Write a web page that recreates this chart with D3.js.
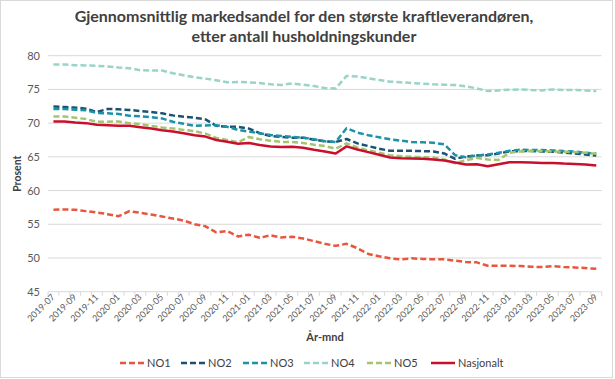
<!DOCTYPE html>
<html><head><meta charset="utf-8">
<script src="https://cdn.jsdelivr.net/npm/d3@7"></script>
<style>body{margin:0;background:#fff} svg{display:block} text{font-family:Lato,"Open Sans",sans-serif}</style>
</head><body><svg id="c" width="615" height="379"></svg>
<script>
const categories = ["2019-07","2019-08","2019-09","2019-10","2019-11","2019-12",
"2020-01","2020-02","2020-03","2020-04","2020-05","2020-06","2020-07","2020-08","2020-09","2020-10","2020-11","2020-12",
"2021-01","2021-02","2021-03","2021-04","2021-05","2021-06","2021-07","2021-08","2021-09","2021-10","2021-11","2021-12",
"2022-01","2022-02","2022-03","2022-04","2022-05","2022-06","2022-07","2022-08","2022-09","2022-10","2022-11","2022-12",
"2023-01","2023-02","2023-03","2023-04","2023-05","2023-06","2023-07","2023-08","2023-09"];
const seriesNames = ["NO1","NO2","NO3","NO4","NO5","Nasjonalt"];
const NO1 = [57.15,57.2,57.15,56.95,56.75,56.5,56.2,56.95,56.7,56.45,56.15,55.85,55.55,55.0,54.7,53.8,54.0,53.2,53.45,53.0,53.35,53.05,53.15,52.9,52.5,52.1,51.8,52.1,51.45,50.6,50.25,49.95,49.8,49.95,49.85,49.8,49.8,49.6,49.4,49.35,48.85,48.85,48.85,48.8,48.7,48.65,48.8,48.65,48.6,48.5,48.4];
const NO2 = [72.45,72.4,72.3,72.15,71.65,72.1,72.05,71.95,71.8,71.65,71.45,71.15,70.95,70.8,70.55,69.6,69.45,69.45,69.2,68.5,68.1,67.95,67.85,67.85,67.55,67.3,67.2,67.65,67.0,66.6,66.2,65.9,65.9,65.9,65.85,65.8,65.5,64.7,65.05,65.2,65.25,65.5,65.8,65.85,65.85,65.8,65.75,65.65,65.5,65.35,65.2];
const NO3 = [72.1,72.1,72.0,71.9,71.5,71.45,71.35,71.1,71.0,70.9,70.7,70.2,69.9,69.6,69.65,69.7,69.45,69.0,68.75,68.5,68.25,68.1,67.95,67.85,67.6,67.3,67.2,69.25,68.6,68.2,67.9,67.6,67.4,67.2,67.15,67.1,66.85,65.25,64.95,65.2,65.35,65.6,65.9,66.05,66.0,66.0,65.95,65.85,65.8,65.6,65.5];
const NO4 = [78.7,78.7,78.6,78.55,78.5,78.4,78.25,78.15,77.85,77.8,77.8,77.4,77.1,76.8,76.6,76.35,76.05,76.1,76.05,75.95,75.75,75.65,75.9,75.7,75.5,75.2,75.15,77.0,76.9,76.65,76.4,76.15,76.05,75.95,75.85,75.75,75.7,75.65,75.45,75.15,74.75,74.85,74.95,75.0,74.9,74.85,75.0,74.9,74.9,74.85,74.75];
const NO5 = [71.0,71.0,70.8,70.6,70.2,70.2,70.25,70.0,69.85,69.6,69.35,69.2,69.0,68.8,68.45,67.8,67.5,67.15,67.95,67.6,67.4,67.2,67.2,67.05,66.8,66.6,66.2,67.0,66.4,65.95,65.6,65.25,65.1,65.0,64.95,64.9,64.6,64.05,64.5,64.85,64.6,64.55,65.6,65.8,65.85,65.85,65.8,65.75,65.7,65.6,65.45];
const Nasjonalt = [70.25,70.25,70.1,70.0,69.75,69.7,69.6,69.6,69.4,69.2,68.95,68.75,68.5,68.2,68.0,67.5,67.25,66.95,67.05,66.75,66.55,66.45,66.5,66.35,66.05,65.8,65.5,66.55,66.1,65.7,65.3,64.9,64.8,64.75,64.7,64.6,64.45,64.15,63.85,63.9,63.6,63.9,64.2,64.2,64.15,64.1,64.1,64.0,63.95,63.85,63.7];
const yTicks = [45,50,55,60,65,70,75,80];
const titleLines = ["Gjennomsnittlig markedsandel for den største kraftleverandøren,","etter antall husholdningskunder"];
const yTitle = "Prosent";
const xTitle = "År-mnd";

const seriesValues = [NO1,NO2,NO3,NO4,NO5,Nasjonalt];
const colors = ["#E8563F","#1B5273","#1A93A8","#9AD3C8","#A6C46C","#C8102E"];
const dashed = [true,true,true,true,true,false];

const svg = d3.select("#c");
const M = {l:48, r:601.7, t:55.7, b:291.7};
const x = d3.scaleBand().domain(categories).range([M.l, M.r]).padding(0);
const y = d3.scaleLinear().domain([45,80]).range([M.b, M.t]);
const cx = c => x(c) + x.bandwidth()/2;

svg.append("rect").attr("x",0.5).attr("y",0.5).attr("width",612).attr("height",377)
  .attr("fill","#fff").attr("stroke","#d9d9d9");

// title
svg.append("g").selectAll("text").data(titleLines).join("text")
  .attr("x",304).attr("y",(d,i)=>22+i*20).attr("text-anchor","middle")
  .attr("font-size",16).attr("font-weight","bold").attr("fill","#404040").text(d=>d);

// grid
svg.append("g").selectAll("line").data(yTicks).join("line")
  .attr("x1",M.l).attr("x2",M.r).attr("y1",d=>y(d)).attr("y2",d=>y(d))
  .attr("stroke","#d9d9d9").attr("stroke-width",1);
svg.append("g").selectAll("text").data(yTicks).join("text")
  .attr("x",40).attr("y",d=>y(d)+4).attr("text-anchor","end")
  .attr("font-size",11).attr("fill","#595959").text(d=>d);

// x ticks
const edges = categories.map(c=>x(c)).concat([M.r]);
svg.append("g").selectAll("line").data(edges).join("line")
  .attr("x1",d=>d).attr("x2",d=>d).attr("y1",M.b).attr("y2",M.b+4)
  .attr("stroke","#d9d9d9");
svg.append("g").selectAll("text").data(categories.filter((c,i)=>i%2===0)).join("text")
  .attr("transform",c=>`translate(${cx(c)+2},${M.b+6}) rotate(-45)`)
  .attr("text-anchor","end").attr("font-size",9).attr("fill","#595959").text(d=>d);

svg.append("text").attr("x",325).attr("y",341).attr("text-anchor","middle")
  .attr("font-size",11).attr("font-weight","bold").attr("fill","#404040").text(xTitle);
svg.append("text").attr("transform",`translate(21,${(M.t+M.b)/2}) rotate(-90)`)
  .attr("text-anchor","middle").attr("font-size",10.5).attr("font-weight","bold").attr("fill","#404040").text(yTitle);

// lines
const line = d3.line().x((d,i)=>cx(categories[i])).y(d=>y(d));
seriesValues.forEach((vals,k)=>{
  svg.append("path").attr("d",line(vals)).attr("fill","none")
    .attr("stroke",colors[k]).attr("stroke-width",2.5)
    .attr("stroke-dasharray",dashed[k]?"6,3":null).attr("stroke-linejoin","round");
});

// legend
const legX = [120,181,243,304,367,431];
const lg = svg.append("g").selectAll("g").data(seriesNames).join("g")
  .attr("transform",(d,i)=>`translate(${legX[i]},363)`);
lg.append("line").attr("x1",0).attr("x2",24).attr("y1",0).attr("y2",0)
  .attr("stroke",(d,i)=>colors[i]).attr("stroke-width",2.5)
  .attr("stroke-dasharray",(d,i)=>dashed[i]?"6,3":null);
lg.append("text").attr("x",27).attr("y",4).attr("font-size",11).attr("fill","#404040").text(d=>d);
</script></body></html>
